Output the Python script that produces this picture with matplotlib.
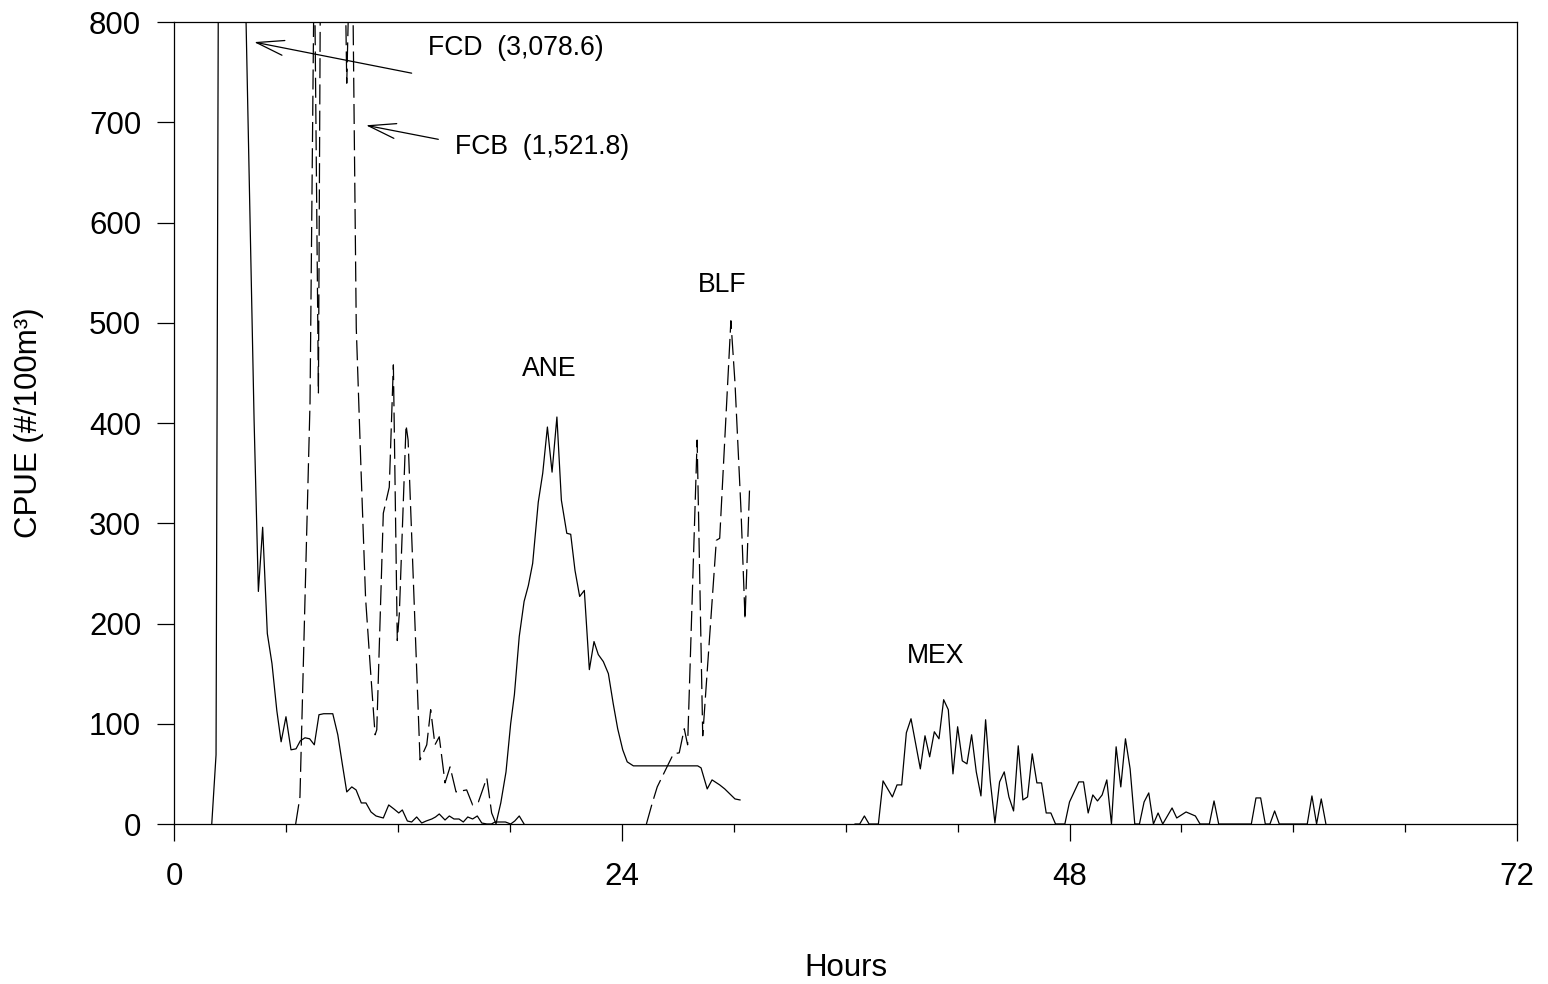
import matplotlib
matplotlib.use("Agg")
import matplotlib.pyplot as plt
from matplotlib.ticker import MultipleLocator

plt.rcParams['font.family'] = ['Liberation Sans', 'DejaVu Sans']

# FCD (linha cheia) - pico fora da escala: 3,078.6
fcd_h = [2.0, 2.23, 2.5, 2.75, 3.0, 3.25, 3.5, 3.75, 4.27, 4.5, 4.73, 4.98, 5.23, 5.49, 5.72,
         5.98, 6.25, 6.52, 6.75, 7.0, 7.25, 7.5, 7.75, 8.0, 8.25, 8.49, 8.76, 9.0, 9.24, 9.51,
         9.74, 10.02, 10.27, 10.54, 10.81, 11.0, 11.2, 11.49, 11.77, 12.03, 12.22, 12.49, 12.72,
         12.99, 13.26, 13.5, 13.8, 14.0, 14.2, 14.51, 14.74, 14.99, 15.26, 15.49, 15.73, 15.99,
         16.24, 16.48, 16.75, 17.0, 17.19, 17.5, 17.75, 18.03, 18.25, 18.49, 18.75]
fcd_v = [0, 69, 1750, 3078.6, 2400, 1800, 1300, 883, 403, 232, 296, 190, 160, 113, 82,
         107, 74, 75, 83, 86, 85, 79, 109, 110, 110, 110, 89, 60, 32, 37,
         34, 21, 21, 12, 8, 7, 6, 19, 15, 11, 14, 3, 2,
         7, 1, 3, 5, 7, 10, 4, 8, 5, 5, 2, 7, 5,
         8, 1, 0, 0, 2, 2, 2, 0, 3, 8, 0]

# FCB (tracejada) - pico fora da escala: 1,521.8
fcb_h = [6.5, 6.73, 7.0, 7.27, 7.5, 7.72, 8.0, 8.25, 8.5, 8.75, 9.0, 9.24, 9.5, 9.75, 10.0,
         10.25, 10.5, 10.76, 10.85, 11.2, 11.52, 11.74, 11.95, 12.06, 12.42, 12.53, 13.17,
         13.53, 13.74, 13.97, 14.2, 14.51, 14.78, 15.1, 15.67, 15.99, 16.3, 16.75, 17.01, 17.25]
fcb_v = [0, 27, 224, 420, 877, 430, 1521.8, 1400, 1250, 1150, 1044, 739, 950, 495, 356,
         225, 157, 89, 94, 310, 336, 458, 183, 210, 398, 383, 64,
         79, 114, 79, 87, 41, 57, 32, 34, 19, 22, 46, 11, 0]

# ANE (linha cheia)
ane_h = [17.24, 17.5, 17.78, 18.03, 18.23, 18.49, 18.75, 18.98, 19.21, 19.51, 19.75, 20.0,
         20.25, 20.51, 20.75, 21.04, 21.25, 21.48, 21.73, 21.98, 22.25, 22.5, 22.73, 23.0,
         23.27, 23.53, 23.77, 24.04, 24.28, 24.61, 28.06, 28.24, 28.57, 28.83, 29.24, 29.51,
         30.06, 30.33]
ane_v = [0, 21, 52, 100, 129, 187, 222, 238, 260, 321, 350, 396,
         351, 406, 323, 290, 289, 253, 227, 233, 154, 182, 169, 162,
         150, 120, 95, 74, 62, 58, 58, 56, 35, 44, 39, 35,
         25, 24]

# BLF (tracejada)
blf_h = [25.31, 25.61, 25.89, 26.52, 26.76, 27.07, 27.34, 27.52, 28.03, 28.33, 29.06, 29.24,
         29.84, 30.06, 30.38, 30.6, 30.84]
blf_v = [0, 20, 37, 61, 70, 71, 95, 79, 383, 88, 283, 285,
         502, 440, 314, 204, 334]

# MEX (linha cheia)
mex_h = [36.5, 36.75, 37.0, 37.25, 37.5, 37.75, 38.0, 38.25, 38.5, 38.75, 39.0, 39.25, 39.5,
         39.75, 40.0, 40.25, 40.5, 40.75, 41.0, 41.25, 41.5, 41.75, 42.0, 42.25, 42.5, 42.75,
         43.0, 43.25, 43.5, 43.75, 44.0, 44.25, 44.5, 44.75, 45.0, 45.25, 45.5, 45.75, 46.0,
         46.25, 46.5, 46.75, 47.0, 47.25, 47.5, 47.75, 48.0, 48.25, 48.5, 48.75, 49.0, 49.25,
         49.5, 49.75, 50.0, 50.25, 50.5, 50.75, 51.0, 51.25, 51.5, 51.75, 52.0, 52.25, 52.5,
         52.75, 53.0, 53.25, 53.5, 53.75, 54.0, 54.25, 54.5, 54.75, 55.0, 55.25, 55.5, 55.75,
         56.0, 56.25, 56.5, 56.75, 57.0, 57.25, 57.5, 57.75, 58.0, 58.25, 58.5, 58.75, 59.0,
         59.25, 59.5, 59.75, 60.0, 60.25, 60.5, 60.75, 61.0, 61.25, 61.5, 61.75]
mex_v = [0, 0, 8, 0, 0, 0, 43, 35, 27, 39, 39, 91, 105,
         80, 55, 88, 67, 92, 85, 124, 114, 50, 97, 63, 60, 89,
         52, 28, 104, 43, 1, 42, 52, 27, 13, 78, 24, 27, 70,
         41, 41, 11, 11, 0, 0, 0, 22, 32, 42, 42, 11, 29,
         23, 29, 44, 0, 77, 37, 85, 55, 0, 0, 22, 31, 0,
         11, 0, 8, 16, 6, 9, 12, 10, 8, 0, 0, 0, 23,
         0, 0, 0, 0, 0, 0, 0, 0, 26, 26, 0, 0, 13,
         0, 0, 0, 0, 0, 0, 0, 28, 0, 25, 0]

fig = plt.figure(figsize=(15.48, 9.84), dpi=100)
ax = fig.add_axes([0.1127, 0.1626, 0.8673, 0.815])

lw = 0.9
tracejado = (0, (16, 5))
ax.plot(fcd_h, fcd_v, color='black', lw=lw)
ax.plot(fcb_h, fcb_v, color='black', lw=lw, linestyle=tracejado)
ax.plot(ane_h, ane_v, color='black', lw=lw)
ax.plot(blf_h, blf_v, color='black', lw=lw, linestyle=tracejado)
ax.plot(mex_h, mex_v, color='black', lw=lw)

ax.set_xlim(0, 72)
ax.set_ylim(0, 800)
ax.xaxis.set_major_locator(MultipleLocator(24))
ax.xaxis.set_minor_locator(MultipleLocator(6))
ax.yaxis.set_major_locator(MultipleLocator(100))

ax.tick_params(axis='both', which='major', direction='out', length=12, width=0.9,
               labelsize=22.5, top=False, right=False)
ax.tick_params(axis='x', which='major', pad=15)
ax.tick_params(axis='y', which='major', pad=12)
ax.tick_params(axis='x', which='minor', direction='out', length=6, width=0.9, top=False)
for s in ax.spines.values():
    s.set_linewidth(0.9)

ax.set_xlabel('Hours', fontsize=22.5, labelpad=44)
ax.set_ylabel('CPUE (#/100m³)', fontsize=22.5, labelpad=32)

# rótulos das séries
fs = 19.2
ax.text(20.1, 454, 'ANE', fontsize=fs, ha='center', va='center')
ax.text(29.4, 538, 'BLF', fontsize=fs, ha='center', va='center')
ax.text(40.8, 168, 'MEX', fontsize=fs, ha='center', va='center')
ax.text(13.6, 774, 'FCD  (3,078.6)', fontsize=fs, ha='left', va='center')
ax.text(15.04, 675, 'FCB  (1,521.8)', fontsize=fs, ha='left', va='center')

seta = dict(arrowstyle='->,head_length=1.1,head_width=0.3', color='black', lw=0.9,
            shrinkA=0, shrinkB=0, mutation_scale=18)
ax.annotate('', xy=(4.27, 780), xytext=(12.72, 749), arrowprops=seta)
ax.annotate('', xy=(10.27, 697), xytext=(14.15, 683), arrowprops=seta)

fig.savefig('out.png', dpi=100)
